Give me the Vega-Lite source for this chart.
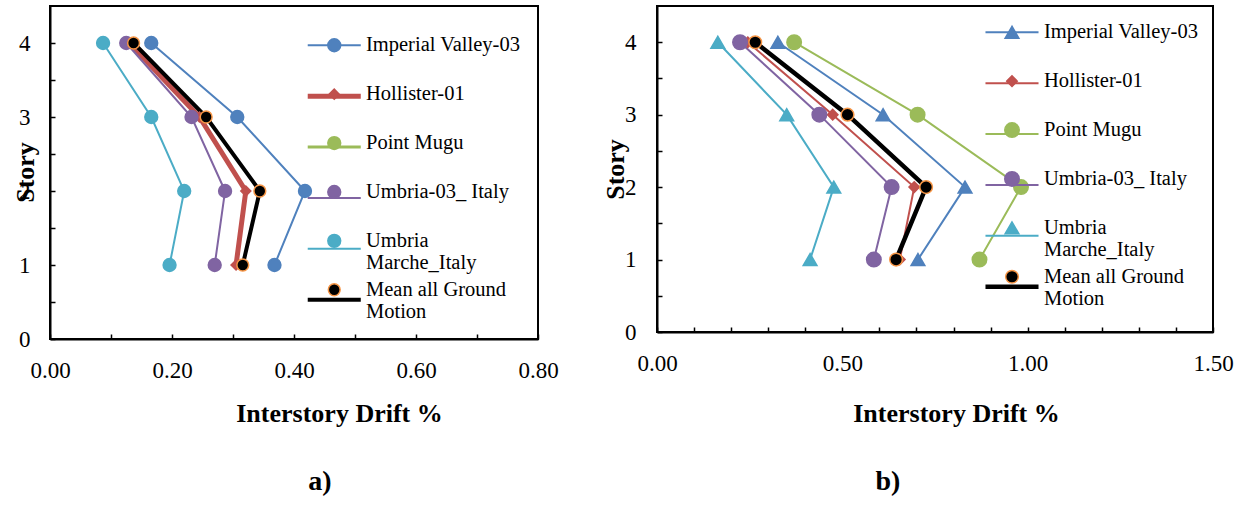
{
  "$schema": "https://vega.github.io/schema/vega-lite/v6.json",
  "padding": {"left": 11, "top": 5, "right": 0, "bottom": 0},
  "bounds": "flush",
  "spacing": 119,
  "resolve": {
    "scale": {"stroke": "independent", "strokeWidth": "independent", "fill": "independent", "shape": "independent", "size": "independent"},
    "legend": {"stroke": "independent", "strokeWidth": "independent", "fill": "independent", "shape": "independent", "size": "independent"}
  },
  "config": {
    "font": "Liberation Serif, Times New Roman, serif",
    "view": {"stroke": "black", "strokeWidth": 2},
    "axis": {
      "domainColor": "black", "domainWidth": 2, "tickColor": "black", "tickWidth": 1.5, "tickSize": -5,
      "labelFont": "Liberation Serif, Times New Roman, serif", "labelFontSize": 23, "labelColor": "black",
      "titleFont": "Liberation Serif, Times New Roman, serif", "titleFontSize": 26, "titleFontWeight": "bold", "titleColor": "black",
      "grid": false, "labelFlush": false, "labelOverlap": false
    },
    "legend": {
      "labelFont": "Liberation Serif, Times New Roman, serif", "labelFontSize": 20.5, "labelColor": "black", "labelLimit": 400,
      "padding": 0, "offset": 0, "rowPadding": 4.9, "title": null
    },
    "title": {"font": "Liberation Serif, Times New Roman, serif", "fontSize": 28, "fontWeight": "bold", "color": "black"}
  },
  "datasets": {
    "a": [
      {"series": "Imperial Valley-03", "story": 4, "drift": 0.166},
      {"series": "Imperial Valley-03", "story": 3, "drift": 0.307},
      {"series": "Imperial Valley-03", "story": 2, "drift": 0.418},
      {"series": "Imperial Valley-03", "story": 1, "drift": 0.368},
      {"series": "Hollister-01", "story": 4, "drift": 0.13},
      {"series": "Hollister-01", "story": 3, "drift": 0.245},
      {"series": "Hollister-01", "story": 2, "drift": 0.321},
      {"series": "Hollister-01", "story": 1, "drift": 0.305},
      {"series": "Umbria-03_ Italy", "story": 4, "drift": 0.125},
      {"series": "Umbria-03_ Italy", "story": 3, "drift": 0.232},
      {"series": "Umbria-03_ Italy", "story": 2, "drift": 0.287},
      {"series": "Umbria-03_ Italy", "story": 1, "drift": 0.27},
      {"series": "Umbria Marche_Italy", "story": 4, "drift": 0.087},
      {"series": "Umbria Marche_Italy", "story": 3, "drift": 0.166},
      {"series": "Umbria Marche_Italy", "story": 2, "drift": 0.22},
      {"series": "Umbria Marche_Italy", "story": 1, "drift": 0.196},
      {"series": "Mean all Ground Motion", "story": 4, "drift": 0.137},
      {"series": "Mean all Ground Motion", "story": 3, "drift": 0.256},
      {"series": "Mean all Ground Motion", "story": 2, "drift": 0.344},
      {"series": "Mean all Ground Motion", "story": 1, "drift": 0.316}
    ],
    "b": [
      {"series": "Imperial Valley-03", "story": 4, "drift": 0.326},
      {"series": "Imperial Valley-03", "story": 3, "drift": 0.61},
      {"series": "Imperial Valley-03", "story": 2, "drift": 0.831},
      {"series": "Imperial Valley-03", "story": 1, "drift": 0.704},
      {"series": "Hollister-01", "story": 4, "drift": 0.245},
      {"series": "Hollister-01", "story": 3, "drift": 0.474},
      {"series": "Hollister-01", "story": 2, "drift": 0.694},
      {"series": "Hollister-01", "story": 1, "drift": 0.655},
      {"series": "Point Mugu", "story": 4, "drift": 0.37},
      {"series": "Point Mugu", "story": 3, "drift": 0.703},
      {"series": "Point Mugu", "story": 2, "drift": 0.982},
      {"series": "Point Mugu", "story": 1, "drift": 0.87},
      {"series": "Umbria-03_ Italy", "story": 4, "drift": 0.224},
      {"series": "Umbria-03_ Italy", "story": 3, "drift": 0.438},
      {"series": "Umbria-03_ Italy", "story": 2, "drift": 0.633},
      {"series": "Umbria-03_ Italy", "story": 1, "drift": 0.585},
      {"series": "Umbria Marche_Italy", "story": 4, "drift": 0.164},
      {"series": "Umbria Marche_Italy", "story": 3, "drift": 0.35},
      {"series": "Umbria Marche_Italy", "story": 2, "drift": 0.477},
      {"series": "Umbria Marche_Italy", "story": 1, "drift": 0.413},
      {"series": "Mean all Ground Motion", "story": 4, "drift": 0.265},
      {"series": "Mean all Ground Motion", "story": 3, "drift": 0.514},
      {"series": "Mean all Ground Motion", "story": 2, "drift": 0.726},
      {"series": "Mean all Ground Motion", "story": 1, "drift": 0.645}
    ]
  },
  "hconcat": [
    {
      "width": 488, "height": 333,
      "data": {"name": "a"},
      "title": {"text": "a)", "orient": "bottom", "anchor": "middle", "dx": 26, "offset": 64, "baseline": "alphabetic"},
      "encoding": {
        "x": {"field": "drift", "type": "quantitative",
          "scale": {"domain": [0, 0.8], "nice": false},
          "axis": {"values": [0, 0.1, 0.2, 0.3, 0.4, 0.5, 0.6, 0.7, 0.8],
            "labelExpr": "round(datum.value*10) % 2 == 0 ? format(datum.value, '.2f') : ''",
            "labelBaseline": "alphabetic", "labelPadding": 43,
            "title": "Interstory Drift %", "titleX": 289, "titleY": 82, "titleBaseline": "alphabetic", "titleAlign": "center"}},
        "y": {"field": "story", "type": "quantitative",
          "scale": {"domain": [0, 4.5], "nice": false},
          "axis": {"values": [0, 0.5, 1, 1.5, 2, 2.5, 3, 3.5, 4],
            "labelExpr": "datum.value % 1 == 0 ? format(datum.value, 'd') : ''",
            "labelPadding": 25,
            "title": "Story", "titleX": -17, "titleY": 166, "titleAngle": -90, "titleBaseline": "alphabetic", "titleAlign": "center"}}
      },
      "resolve": {
        "scale": {"stroke": "independent"},
        "legend": {"stroke": "independent", "strokeWidth": "independent", "fill": "independent", "shape": "independent", "size": "independent"}
      },
      "layer": [
        {
          "mark": {"type": "line"},
          "encoding": {
            "order": {"field": "story", "type": "quantitative"},
            "stroke": {"field": "series", "type": "nominal",
              "scale": {"domain": ["Imperial Valley-03", "Hollister-01", "Point Mugu", "Umbria-03_ Italy", "Umbria Marche_Italy", "Mean all Ground Motion"],
                "range": ["#4F81BD", "#C0504D", "#9BBB59", "#8064A2", "#4BACC6", "#000000"]},
              "legend": {"orient": "none", "legendX": 274, "legendY": 29, "symbolType": "M-4.42,0H4.42", "symbolSize": 144,
                "labelExpr": "[' ', ' ']",
                "encode": {"labels": {"update": {"lineHeight": {"value": 25}}}}}},
            "strokeWidth": {"field": "series", "type": "nominal",
              "scale": {"type": "ordinal", "domain": ["Imperial Valley-03", "Hollister-01", "Point Mugu", "Umbria-03_ Italy", "Umbria Marche_Italy", "Mean all Ground Motion"],
                "range": [2, 5, 3, 2, 2, 4]}}
          }
        },
        {
          "mark": {"type": "point", "filled": true, "opacity": 1, "strokeWidth": 1.5},
          "encoding": {
            "fill": {"field": "series", "type": "nominal",
              "scale": {"domain": ["Imperial Valley-03", "Hollister-01", "Point Mugu", "Umbria-03_ Italy", "Umbria Marche_Italy", "Mean all Ground Motion"],
                "range": ["#4F81BD", "#C0504D", "#9BBB59", "#8064A2", "#4BACC6", "#000000"]},
              "legend": {"orient": "none", "legendX": 274, "legendY": 29, "labelOffset": 21.5, "symbolStrokeWidth": 1.5,
                "labelExpr": "datum.label == 'Umbria Marche_Italy' ? ['Umbria','Marche_Italy'] : datum.label == 'Mean all Ground Motion' ? ['Mean all Ground','Motion'] : datum.label == 'Hollister-01' ? ['\u00a0Hollister-01', ' '] : [datum.label, ' ']",
                "encode": {"labels": {"update": {"lineHeight": {"value": 25}}}}}},
            "stroke": {"field": "series", "type": "nominal",
              "scale": {"domain": ["Imperial Valley-03", "Hollister-01", "Point Mugu", "Umbria-03_ Italy", "Umbria Marche_Italy", "Mean all Ground Motion"],
                "range": ["#4F81BD", "#C0504D", "#9BBB59", "#8064A2", "#4BACC6", "#F79646"]}},
            "shape": {"field": "series", "type": "nominal",
              "scale": {"domain": ["Imperial Valley-03", "Hollister-01", "Point Mugu", "Umbria-03_ Italy", "Umbria Marche_Italy", "Mean all Ground Motion"],
                "range": ["circle", "diamond", "circle", "circle", "circle", "circle"]}},
            "size": {"field": "series", "type": "nominal",
              "scale": {"type": "ordinal", "domain": ["Imperial Valley-03", "Hollister-01", "Point Mugu", "Umbria-03_ Italy", "Umbria Marche_Italy", "Mean all Ground Motion"],
                "range": [165, 100, 165, 165, 165, 140]}}
          }
        }
      ]
    },
    {
      "width": 556, "height": 326,
      "data": {"name": "b"},
      "title": {"text": "b)", "orient": "bottom", "anchor": "middle", "dx": -47, "offset": 64, "baseline": "alphabetic"},
      "encoding": {
        "x": {"field": "drift", "type": "quantitative",
          "scale": {"domain": [0, 1.5], "nice": false},
          "axis": {"values": [0, 0.1, 0.2, 0.3, 0.4, 0.5, 0.6, 0.7, 0.8, 0.9, 1, 1.1, 1.2, 1.3, 1.4, 1.5],
            "labelExpr": "round(datum.value*10) % 5 == 0 ? format(datum.value, '.2f') : ''",
            "labelBaseline": "alphabetic", "labelPadding": 43,
            "title": "Interstory Drift %", "titleX": 299, "titleY": 89, "titleBaseline": "alphabetic", "titleAlign": "center"}},
        "y": {"field": "story", "type": "quantitative",
          "scale": {"domain": [0, 4.5], "nice": false},
          "axis": {"values": [0, 0.5, 1, 1.5, 2, 2.5, 3, 3.5, 4],
            "labelExpr": "datum.value % 1 == 0 ? format(datum.value, 'd') : ''",
            "labelPadding": 26,
            "title": "Story", "titleX": -34, "titleY": 163, "titleAngle": -90, "titleBaseline": "alphabetic", "titleAlign": "center"}}
      },
      "resolve": {
        "scale": {"stroke": "independent"},
        "legend": {"stroke": "independent", "strokeWidth": "independent", "fill": "independent", "shape": "independent", "size": "independent"}
      },
      "layer": [
        {
          "mark": {"type": "line"},
          "encoding": {
            "order": {"field": "story", "type": "quantitative"},
            "stroke": {"field": "series", "type": "nominal",
              "scale": {"domain": ["Imperial Valley-03", "Hollister-01", "Point Mugu", "Umbria-03_ Italy", "Umbria Marche_Italy", "Mean all Ground Motion"],
                "range": ["#4F81BD", "#C0504D", "#9BBB59", "#8064A2", "#4BACC6", "#000000"]},
              "legend": {"orient": "none", "legendX": 344.75, "legendY": 16, "symbolType": "M-4.42,0H4.42", "symbolSize": 144,
                "labelExpr": "[' ', ' ']",
                "encode": {"labels": {"update": {"lineHeight": {"value": 25}}}}}},
            "strokeWidth": {"field": "series", "type": "nominal",
              "scale": {"type": "ordinal", "domain": ["Imperial Valley-03", "Hollister-01", "Point Mugu", "Umbria-03_ Italy", "Umbria Marche_Italy", "Mean all Ground Motion"],
                "range": [2, 2, 2, 2, 2, 4.5]}}
          }
        },
        {
          "mark": {"type": "point", "filled": true, "opacity": 1, "strokeWidth": 1.5},
          "encoding": {
            "fill": {"field": "series", "type": "nominal",
              "scale": {"domain": ["Imperial Valley-03", "Hollister-01", "Point Mugu", "Umbria-03_ Italy", "Umbria Marche_Italy", "Mean all Ground Motion"],
                "range": ["#4F81BD", "#C0504D", "#9BBB59", "#8064A2", "#4BACC6", "#000000"]},
              "legend": {"orient": "none", "legendX": 344.75, "legendY": 16, "labelOffset": 21.75, "symbolStrokeWidth": 1.5,
                "labelExpr": "datum.label == 'Umbria Marche_Italy' ? ['Umbria','Marche_Italy'] : datum.label == 'Mean all Ground Motion' ? ['Mean all Ground','Motion'] : datum.label == 'Hollister-01' ? ['\u00a0Hollister-01', ' '] : [datum.label, ' ']",
                "encode": {"labels": {"update": {"lineHeight": {"value": 25}}}}}},
            "stroke": {"field": "series", "type": "nominal",
              "scale": {"domain": ["Imperial Valley-03", "Hollister-01", "Point Mugu", "Umbria-03_ Italy", "Umbria Marche_Italy", "Mean all Ground Motion"],
                "range": ["#4F81BD", "#C0504D", "#9BBB59", "#8064A2", "#4BACC6", "#F79646"]}},
            "shape": {"field": "series", "type": "nominal",
              "scale": {"domain": ["Imperial Valley-03", "Hollister-01", "Point Mugu", "Umbria-03_ Italy", "Umbria Marche_Italy", "Mean all Ground Motion"],
                "range": ["triangle-up", "diamond", "circle", "circle", "triangle-up", "circle"]}},
            "size": {"field": "series", "type": "nominal",
              "scale": {"type": "ordinal", "domain": ["Imperial Valley-03", "Hollister-01", "Point Mugu", "Umbria-03_ Italy", "Umbria Marche_Italy", "Mean all Ground Motion"],
                "range": [190, 110, 210, 210, 190, 160]}}
          }
        }
      ]
    }
  ]
}
